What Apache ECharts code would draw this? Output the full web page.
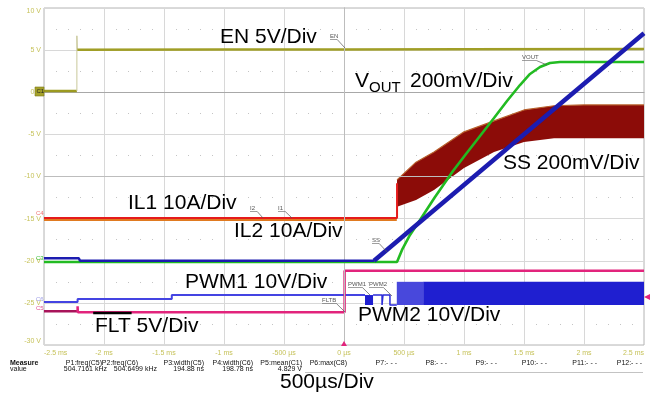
<!DOCTYPE html>
<html><head><meta charset="utf-8">
<script src="https://cdn.jsdelivr.net/npm/echarts@6/dist/echarts.min.js"></script>
<style>html,body{margin:0;padding:0;background:#fff}#c{width:654px;height:407px}</style>
</head><body><div id="c"></div>
<script>
// ---- axis ticks ----
const xTickLabels = ['-2.5 ms','-2 ms','-1.5 ms','-1 ms','-500 µs','0 µs','500 µs','1 ms','1.5 ms','2 ms','2.5 ms'];
const yTickLabels = ['-30 V','-25 V','-20 V','-15 V','-10 V','-5 V','0 V','5 V','10 V'];
const xMin = -2.5, xMax = 2.5, xStep = 0.5;
const yMin = -30, yMax = 10, yStep = 5;

// ---- traces: [time (ms), screen volts] ----
const enLow  = [[-2.5,0.15],[-2.226,0.15]];
const enEdge = [[-2.226,0.15],[-2.226,6.7],[-2.222,5.05]];
const enHigh = [[-2.222,5.05],[-1.0,5.08],[0.0,5.08],[1.0,5.1],[2.5,5.12]];

const voutT = [-2.5, 0.4417, 0.4833, 0.55, 0.6333, 0.7583, 0.9083, 1.0167, 1.1333, 1.25, 1.3583, 1.4667, 1.55, 1.6333, 1.7167, 1.8, 2.5];
const voutV = [-20.15, -20.15, -18.72, -16.94, -15.16, -12.43, -9.35, -7.33, -5.19, -3.06, -1.04, 0.86, 2.17, 3.0, 3.47, 3.59, 3.59];

const ssFlat = [[-2.5,-19.7],[-2.21,-19.7],[-2.2,-20.0],[0.25,-20.0]];
const ssRamp = [[0.25,-20.0],[2.5,7.0]];

const il1 = [[-2.5,-14.93],[0.442,-14.93],[0.442,-10.8]];
const il2 = [[-2.5,-15.15],[0.44,-15.15]];
const ilT     = [0.442, 0.6, 0.75, 1.0, 1.25, 1.5, 1.75, 2.0, 2.5];
const ilUpper = [-10.4, -8.3, -7.1, -4.7, -3.4, -2.1, -1.6, -1.5, -1.5];
const ilLower = [-13.6, -12.8, -11.6, -9.0, -7.1, -5.9, -5.45, -5.45, -5.45];

const pwm1 = [[-2.5,-24.9],[-2.22,-24.9],[-2.22,-24.55],[-1.435,-24.55],[-1.435,-24.07],[0.175,-24.07]];
const pwm2 = [[0.242,-24.07],[0.317,-24.07],[0.317,-25.25],[0.325,-25.25],[0.325,-24.07],[0.383,-24.07],[0.383,-25.25],[0.44,-25.25]];
// switching bursts: [t start, t end, low V, high V]
const pwmBursts = [[0.175,0.242,-25.25,-24.07],[0.44,0.66,-25.25,-22.5],[0.66,2.5,-25.25,-22.5]];

const fltLow  = [[-2.5,-26.0],[-2.22,-26.0]];
const fltMain = [[-2.22,-26.0],[-2.22,-25.4],[-2.218,-26.12],[0.005,-26.12],[0.005,-21.2],[2.5,-21.2]];
const fltMark = [[-2.09,-26.2],[-1.77,-26.2]];

// ---- measurement table ----
const measHeaders = ['P1:freq(C5)','P2:freq(C6)','P3:width(C5)','P4:width(C6)','P5:mean(C1)','P6:max(C8)','P7:- - -','P8:- - -','P9:- - -','P10:- - -','P11:- - -','P12:- - -'];
const measValues  = ['504.7161 kHz','504.6499 kHz','194.88 ns','198.78 ns','4.829 V'];

const FONT = '"Liberation Sans", Arial, sans-serif';
const chart = echarts.init(document.getElementById('c'), null, {renderer:'canvas'});

function line(name, data, color, width, z, extra) {
  return Object.assign({type:'line', name, data, showSymbol:false, symbol:'none', animation:false,
    lineStyle:{color, width}, itemStyle:{color}, z: z||2, silent:true}, extra||{});
}
const burstColors = ['#1f1fd0', '#4848dc', '#1f1fd0'];

const series = [
  {type:'custom', name:'ILband', silent:true, animation:false, z:2, data:[[ilT[0], ilLower[0]]],
   renderItem:(params, api) => {
     const pts = [];
     for (let i=0;i<ilT.length;i++) pts.push(api.coord([ilT[i], ilUpper[i]]));
     for (let i=ilT.length-1;i>=0;i--) pts.push(api.coord([ilT[i], ilLower[i]]));
     return {type:'polygon', shape:{points:pts}, style:{fill:'#8c0c08'}};
   }},
  line('ILedge', ilT.map((t,i)=>[t, ilUpper[i]]), '#b8602c', 1.2, 3),
  line('IL2', il2, '#e07a20', 2, 3),
  line('IL1', il1, '#e51b1b', 2, 4),
  line('ENlow', enLow, '#9c9a20', 2.5, 4),
  line('ENedge', enEdge, '#c9c89a', 1, 4),
  line('ENhigh', enHigh, '#a09e26', 2.5, 4),
  {type:'custom', name:'PWMburst', silent:true, animation:false, z:4, data: pwmBursts,
   encode:{x:[0,1], y:[2,3]},
   renderItem:(params, api) => {
     const a = api.coord([api.value(0), api.value(3)]);
     const b = api.coord([api.value(1), api.value(2)]);
     return {type:'rect', shape:{x:a[0], y:a[1], width:b[0]-a[0], height:b[1]-a[1]}, style:{fill:burstColors[params.dataIndex]}};
   }},
  line('PWM1', pwm1, '#4444e2', 2, 4),
  line('PWM2', pwm2, '#2a2ad8', 1.5, 4),
  line('FLTlow', fltLow, '#a8145a', 2.5, 4),
  line('FLT', fltMain, '#e2247c', 2.5, 4),
  line('FLTmark', fltMark, '#000000', 2.5, 5),
  line('VOUT', voutT.map((t,i)=>[t, voutV[i]]), '#22bb22', 2.6, 5),
  line('SSflat', ssFlat, '#1c1cb0', 2.5, 6),
  line('SSramp', ssRamp, '#1c1cb0', 4.5, 6, {
    markLine:{silent:true, symbol:'none', animation:false, label:{show:false},
      lineStyle:{color:'#bdbdbd', type:'solid', width:1},
      data:[{yAxis:-10},{xAxis:0}]}
  })
];

const big = (text, x, y, size) => ({type:'text', x, y, z:100, silent:true,
  style:{text, font:(size||21)+'px '+FONT, fill:'#000', align:'left', verticalAlign:'middle', textAlign:'left', textVerticalAlign:'middle'}});
const small = (text, x, y, ex, ey) => {
  const w = text.length*3.6;
  return [
    {type:'text', x, y, z:100, silent:true, style:{text, font:'6px '+FONT, fill:'#555', align:'left', verticalAlign:'middle', textAlign:'left', textVerticalAlign:'middle'}},
    {type:'line', z:100, silent:true, shape:{x1:x, y1:y+3.5, x2:x+w, y2:y+3.5}, style:{stroke:'#777', lineWidth:0.7}},
    {type:'line', z:100, silent:true, shape:{x1:x+w, y1:y+3.5, x2:ex, y2:ey}, style:{stroke:'#555', lineWidth:0.7}}
  ];
};
const tiny = (text, x, y, color) => ({type:'text', x, y, z:100, silent:true,
  style:{text, font:'6px '+FONT, fill:color, align:'left', verticalAlign:'middle', textAlign:'left', textVerticalAlign:'middle'}});

const graphic = [
  big('EN 5V/Div', 220, 37),
  big('V', 355, 81),
  big('OUT', 369, 88, 15),
  big('200mV/Div', 410, 81),
  big('SS 200mV/Div', 503, 163),
  big('IL1 10A/Div', 128, 203),
  big('IL2 10A/Div', 234, 231),
  big('PWM1 10V/Div', 185, 282.5),
  big('FLT 5V/Div', 95, 326),
  big('PWM2 10V/Div', 358, 315.5),
  big('500µs/Div', 280, 382),
  ...small('EN', 330, 36, 345, 48),
  ...small('VOUT', 522, 57, 547, 65),
  ...small('I2', 250, 208, 263, 218),
  ...small('I1', 278, 208, 292, 218),
  ...small('SS', 372, 240, 387, 252),
  ...small('PWM1', 348, 284, 370, 295),
  ...small('PWM2', 369, 284, 392, 296),
  ...small('FLTB', 322, 300, 345, 312),
  {type:'rect', z:100, silent:true, shape:{x:35, y:87, width:9, height:9}, style:{fill:'#a5a22a', stroke:'#7c7a18', lineWidth:0.6}},
  tiny('C1', 36.5, 91.5, '#222'),
  tiny('C4', 36, 213, '#f07070'),
  tiny('C3', 36, 258, '#3cc03c'),
  tiny('C6', 36, 299, '#9a9ae6'),
  tiny('C5', 36, 308, '#e05090'),
  {type:'polygon', z:100, silent:true, shape:{points:[[644,297],[650,294],[650,300]]}, style:{fill:'#e2247c'}},
  {type:'polygon', z:100, silent:true, shape:{points:[[344,341],[341,346],[347,346]]}, style:{fill:'#e2247c'}},
  {type:'text', x:10, y:363.5, z:100, silent:true, style:{text:'Measure', font:'bold 7px '+FONT, fill:'#111', align:'left', verticalAlign:'middle'}},
  {type:'text', x:10, y:369.5, z:100, silent:true, style:{text:'value', font:'7px '+FONT, fill:'#111', align:'left', verticalAlign:'middle'}},
  {type:'line', z:100, silent:true, shape:{x1:305, y1:372.5, x2:643, y2:372.5}, style:{stroke:'#9a9a9a', lineWidth:0.6}}
];
const headRight = [102,138,204,253,302,347,397,447,497,547,597,642];
const valRight  = [107,157,204,253,302];
measHeaders.forEach((h,i)=>graphic.push({type:'text', x:headRight[i], y:363.5, z:100, silent:true,
  style:{text:h, font:'7px '+FONT, fill:'#111', align:'right', verticalAlign:'middle', textAlign:'right', textVerticalAlign:'middle'}}));
measValues.forEach((v,i)=>graphic.push({type:'text', x:valRight[i], y:369.5, z:100, silent:true,
  style:{text:v, font:'7px '+FONT, fill:'#111', align:'right', verticalAlign:'middle', textAlign:'right', textVerticalAlign:'middle'}}));

const labelColor = '#c6c25a';
chart.setOption({
  animation:false,
  backgroundColor:'#ffffff',
  grid:{left:44, top:8, width:600, height:337, show:true, borderColor:'#b4b4b4', borderWidth:1, containLabel:false},
  xAxis:{type:'value', min:xMin, max:xMax, interval:xStep,
    axisLine:{show:true, lineStyle:{color:'#a8a8a8'}}, axisTick:{show:false},
    splitLine:{show:true, lineStyle:{color:'#d8d8d8', width:1}},
    axisLabel:{color:labelColor, fontSize:7, fontFamily:FONT, margin:5, alignMinLabel:'left', alignMaxLabel:'right',
      formatter:(v)=>xTickLabels[Math.round((v-xMin)/xStep)] || ''}},
  yAxis:{type:'value', min:yMin, max:yMax, interval:yStep,
    axisLine:{show:true, lineStyle:{color:'#a8a8a8'}}, axisTick:{show:false},
    splitLine:{show:true, lineStyle:{color:'#d8d8d8', width:1}},
    minorTick:{show:false, splitNumber:2},
    minorSplitLine:{show:true, lineStyle:{color:'#c4c4c4', width:1, type:[1,11]}},
    axisLabel:{color:labelColor, fontSize:7, fontFamily:FONT, margin:3, verticalAlignMaxLabel:'top', verticalAlignMinLabel:'bottom',
      formatter:(v)=>yTickLabels[Math.round((v-yMin)/yStep)] || ''}},
  series,
  graphic
});
</script></body></html>
